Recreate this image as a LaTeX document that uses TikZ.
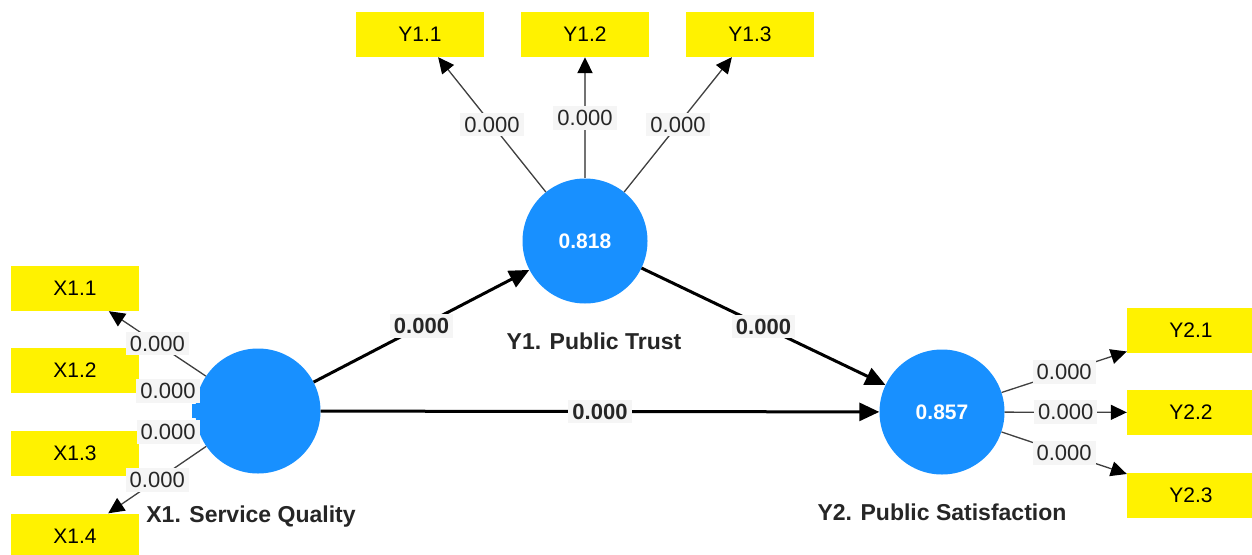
\documentclass[tikz,border=0pt]{standalone}
\usepackage{fontspec}
\setmainfont{Liberation Sans}
\usetikzlibrary{arrows.meta}
\definecolor{lvblue}{RGB}{24,144,255}
\definecolor{lblbg}{RGB}{245,245,245}
\begin{document}
\begin{tikzpicture}[x=1pt,y=-1pt,
  ind/.style={fill=yellow, minimum width=128pt, minimum height=45pt, inner sep=0pt, font=\fontsize{21}{24}\selectfont},
  lv/.style={circle, fill=lvblue, minimum size=125pt, inner sep=0pt, text=white, font=\fontsize{21}{24}\selectfont\bfseries},
  lvname/.style={font=\fontsize{23}{27}\selectfont\bfseries, text=black!85},
  load/.style={draw=black!75, line width=1.3pt, -{Triangle[length=16pt,width=15pt,color=black]}},
  pathar/.style={draw=black, line width=3pt, -{Triangle[length=20pt,width=18pt]}},
  val/.style={fill=lblbg, inner sep=4pt, font=\fontsize{22}{25}\selectfont, text=black!85},
  pval/.style={val, font=\fontsize{22}{25}\selectfont\bfseries}
]
\path[use as bounding box, fill=white] (0,0) rectangle (1252,554);

% latent variables
\node[lv] (X1) at (258,411) {};
\node[lv] (Y1) at (585,241) {0.818};
\node[lv] (Y2) at (942,412) {0.857};
\fill[lvblue] (192,404) rectangle (200,418);

% indicators
\node[ind] (X11) at (75,288.5) {X1.1};
\node[ind] (X12) at (75,370.5) {X1.2};
\node[ind] (X13) at (75,453.5) {X1.3};
\node[ind] (X14) at (75,536) {X1.4};
\node[ind] (Y11) at (420,34.5) {Y1.1};
\node[ind] (Y12) at (585,34.5) {Y1.2};
\node[ind] (Y13) at (750,34.5) {Y1.3};
\node[ind] (Y21) at (1191,330.5) {Y2.1};
\node[ind] (Y22) at (1191,412.5) {Y2.2};
\node[ind] (Y23) at (1191,495.5) {Y2.3};

% names
\node[lvname] (nX1) at (251,517) {X1. Service Quality};
\node[lvname] (nY1) at (594,341) {Y1. Public Trust};
\node[lvname] (nY2) at (942,512) {Y2. Public Satisfaction};

% loadings
\draw[load] (X1) -- node[val] {0.000} (X11);
\draw[load] (X1) -- node[val] {0.000} (X12);
\draw[load] (X1) -- node[val] {0.000} (X13);
\draw[load] (X1) -- node[val] {0.000} (X14);
\draw[load] (Y1) -- node[val] {0.000} (Y11);
\draw[load, draw=black!55, line width=2pt] (Y1) -- node[val] {0.000} (Y12);
\draw[load] (Y1) -- node[val] {0.000} (Y13);
\draw[load] (Y2) -- node[val] {0.000} (Y21);
\draw[load] (Y2) -- node[val] {0.000} (Y22);
\draw[load] (Y2) -- node[val] {0.000} (Y23);

% structural paths
\draw[pathar] (X1) -- node[pval] {0.000} (Y1);
\draw[pathar] (X1) -- node[pval] {0.000} (Y2);
\draw[pathar] (Y1) -- node[pval] {0.000} (Y2);
\end{tikzpicture}
\end{document}
